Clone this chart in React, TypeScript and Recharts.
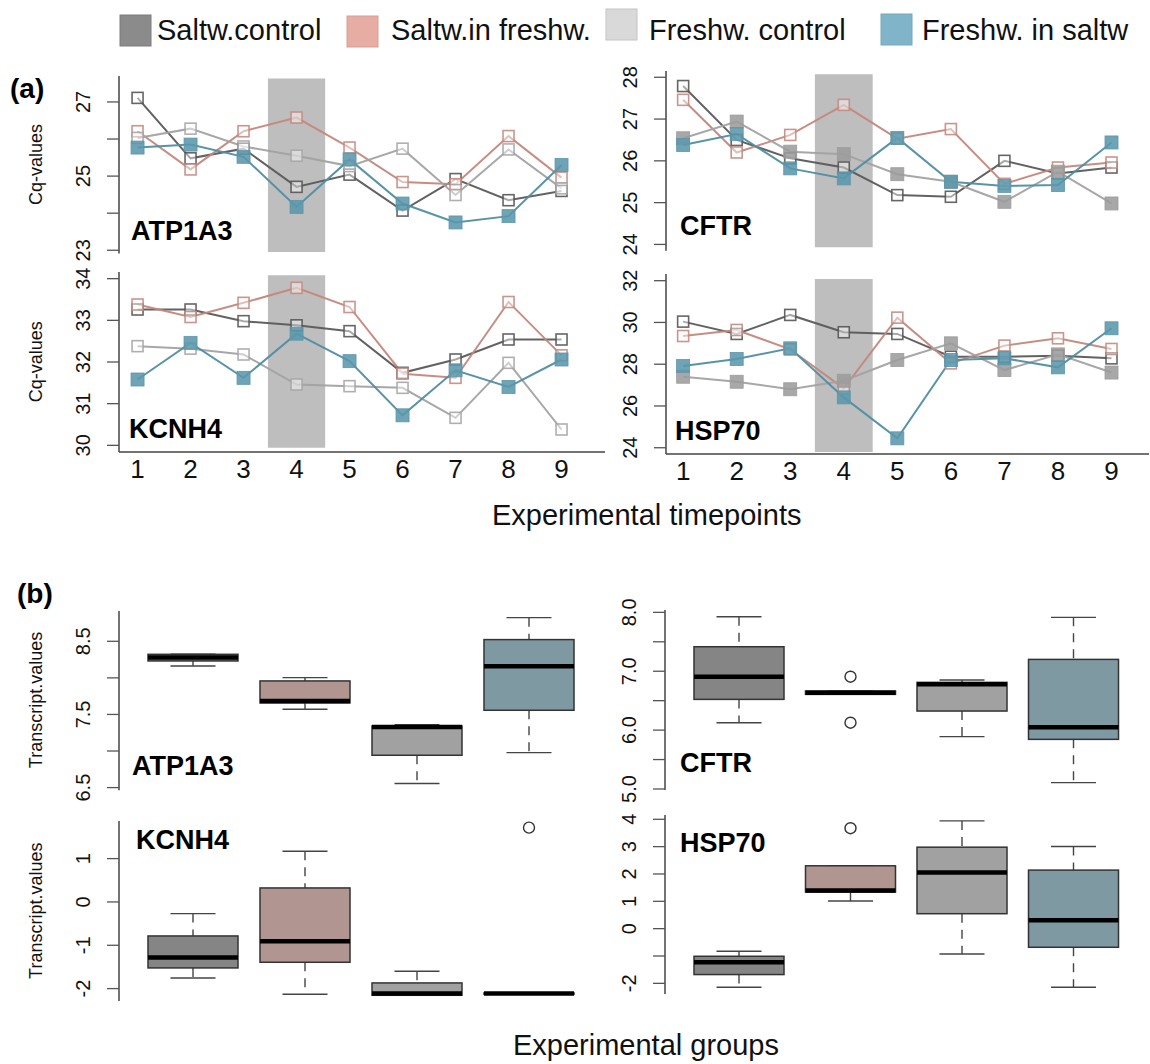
import React from 'react';
import { ComposedChart, Line, Bar, XAxis, YAxis, ReferenceArea } from 'recharts';

const FONT = '"Liberation Sans", Arial, Helvetica, sans-serif';

// ---------- categories ----------
const timepoints = [1, 2, 3, 4, 5, 6, 7, 8, 9];
const groupKeys = ['sc', 'sf', 'fc', 'fs'];
const groupNames = ['Saltw.control', 'Saltw.in freshw.', 'Freshw. control', 'Freshw. in saltw'];

// ---------- (a) Cq-values per timepoint ----------
const atpSC = [27.11, 25.48, 25.74, 24.71, 25.04, 24.07, 24.92, 24.35, 24.6];
const atpSF = [26.21, 25.18, 26.21, 26.58, 25.77, 24.84, 24.78, 26.08, 24.96];
const atpFC = [26.03, 26.28, 25.8, 25.55, 25.27, 25.74, 24.49, 25.72, 24.67];
const atpFS = [25.77, 25.85, 25.52, 24.17, 25.45, 24.26, 23.75, 23.92, 25.3];

const cftrSC = [27.79, 26.5, 26.06, 25.84, 25.18, 25.14, 26.0, 25.7, 25.84];
const cftrSF = [27.46, 26.2, 26.62, 27.34, 26.53, 26.76, 25.45, 25.84, 25.96];
const cftrFC = [26.54, 26.94, 26.22, 26.16, 25.68, 25.5, 25.02, 25.74, 24.98];
const cftrFS = [26.38, 26.64, 25.82, 25.58, 26.55, 25.5, 25.4, 25.42, 26.44];

const kcnSC = [33.26, 33.26, 32.98, 32.88, 32.74, 31.74, 32.06, 32.54, 32.54];
const kcnSF = [33.38, 33.08, 33.42, 33.78, 33.32, 31.72, 31.62, 33.44, 32.16];
const kcnFC = [32.38, 32.32, 32.18, 31.46, 31.42, 31.38, 30.66, 31.98, 30.38];
const kcnFS = [31.58, 32.46, 31.62, 32.68, 32.02, 30.72, 31.8, 31.4, 32.06];

const hspSC = [30.04, 29.45, 30.36, 29.53, 29.45, 28.36, 28.36, 28.41, 28.28];
const hspSF = [29.35, 29.64, 28.71, 26.84, 30.23, 28.04, 28.89, 29.24, 28.73];
const hspFC = [27.4, 27.16, 26.8, 27.21, 28.2, 29.0, 27.72, 28.47, 27.6];
const hspFS = [27.91, 28.25, 28.76, 26.41, 24.45, 28.2, 28.28, 27.85, 29.72];

// shaded transfer period (timepoint range)
const shadeFrom = 3.46;
const shadeTo = 4.54;

// ---------- (b) Transcript values box statistics per group ----------
const atpLow = [8.163, 7.571, 6.555, 6.978];
const atpQ1 = [8.231, 7.657, 6.942, 7.557];
const atpMed = [8.28, 7.684, 7.329, 8.158];
const atpQ3 = [8.322, 7.958, 7.343, 8.523];
const atpHigh = [8.322, 8.003, 7.361, 8.823];
const atpOut: number[][] = [[], [], [], []];

const cftrLow = [6.126, 6.607, 5.889, 5.108];
const cftrQ1 = [6.522, 6.607, 6.324, 5.843];
const cftrMed = [6.907, 6.636, 6.777, 6.047];
const cftrQ3 = [7.416, 6.664, 6.811, 7.201];
const cftrHigh = [7.926, 6.664, 6.85, 7.915];
const cftrOut: number[][] = [[], [6.907, 6.126], [], []];

const kcnLow = [-1.754, -2.131, -2.154, -2.13];
const kcnQ1 = [-1.523, -1.392, -2.154, -2.13];
const kcnMed = [-1.285, -0.908, -2.115, -2.115];
const kcnQ3 = [-0.785, 0.323, -1.869, -2.1];
const kcnHigh = [-0.269, 1.169, -1.6, -2.1];
const kcnOut: number[][] = [[], [], [], [1.715]];

const hspLow = [-2.141, 1.01, -0.925, -2.141];
const hspQ1 = [-1.679, 1.338, 0.547, -0.681];
const hspMed = [-1.229, 1.399, 2.056, 0.304];
const hspQ3 = [-1.01, 2.299, 2.98, 2.141];
const hspHigh = [-0.827, 2.299, 3.942, 3.005];
const hspOut: number[][] = [[], [3.674], [], []];

// ---------- tick labels ----------
const atpTicks = [23, 24, 25, 26, 27];
const atpLabels = [23, 25, 27];
const cftrTicks = [24, 25, 26, 27, 28];
const kcnTicks = [30, 31, 32, 33, 34];
const hspTicks = [24, 26, 28, 30, 32];
const atpBTicks = [6.5, 7, 7.5, 8, 8.5];
const atpBLabels = [6.5, 7.5, 8.5];
const cftrBTicks = [5, 5.5, 6, 6.5, 7, 7.5, 8];
const cftrBLabels = [5, 6, 7, 8];
const kcnBTicks = [-2, -1, 0, 1];
const hspBTicks = [-2, -1, 0, 1, 2, 3, 4];
const hspBLabels = [-2, 0, 1, 2, 3, 4];

// ---------- styles ----------
const legendColors = ['#8b8b8b', '#e7aca3', '#d9d9d9', '#80b4c8'];
const legendStroke = ['#7d7d7d', '#d9a098', '#c4c4c4', '#74a8bc'];
const lineColors = ['#5a5a5a', '#c4877c', '#a2a2a2', '#4f8ea3'];
const markerColors = ['#555555', '#c58a80', '#a6a6a6', '#5a97ab'];
const boxColors = ['#858585', '#b19590', '#a1a1a1', '#7f99a2'];
const frame = { stroke: '#444', strokeWidth: 1.5 };
const tickLineStyle = { stroke: '#555', strokeWidth: 1.3 };

const makeYTick = (labels: number[], digits: number) => (props: any) => {
  const { x, y, payload } = props;
  const v = payload.value;
  if (!labels.some((l) => Math.abs(l - v) < 1e-9)) return <g />;
  return (
    <text x={x} y={y} transform={`rotate(-90 ${x} ${y})`} textAnchor="middle" fontSize={20} fontFamily={FONT} fill="#111">
      {v.toFixed(digits)}
    </text>
  );
};

const XTick = (props: any) => {
  const { x, y, payload } = props;
  return (
    <text x={x} y={y + 26} textAnchor="middle" fontSize={26} fontFamily={FONT} fill="#111">
      {payload.value}
    </text>
  );
};

const openSquare = (stroke: string) => (props: any) => {
  const { cx, cy, index } = props;
  if (cx == null || cy == null) return <g key={`o${index}`} />;
  return (
    <rect key={`o${index}`} x={cx - 5.5} y={cy - 5.5} width={11} height={11} fill="#ffffff" fillOpacity={0.45}
      stroke={stroke} strokeWidth={1.6} strokeOpacity={0.9} />
  );
};
const filledSquare = (fill: string) => (props: any) => {
  const { cx, cy, index } = props;
  if (cx == null || cy == null) return <g key={`f${index}`} />;
  return (
    <rect key={`f${index}`} x={cx - 6.5} y={cy - 6.5} width={13} height={13} fill={fill} fillOpacity={0.88}
      stroke={fill} strokeWidth={0.8} />
  );
};

type LineSpec = {
  gene: string; series: number[][];
  left: number; right: number; top: number; bottom: number;
  xDomain: [number, number]; yDomain: [number, number];
  yTicks: number[]; yLabels: number[];
  shadeY: [number, number];
  showX: boolean; fcFilled: boolean;
};

const linePanels: LineSpec[] = [
  { gene: 'ATP1A3', series: [atpSC, atpSF, atpFC, atpFS], left: 119, right: 605, top: 75.7, bottom: 253.3,
    xDomain: [0.65, 9.82], yDomain: [22.91, 27.7], yTicks: atpTicks, yLabels: atpLabels, shadeY: [22.95, 27.63], showX: false, fcFilled: false },
  { gene: 'CFTR', series: [cftrSC, cftrSF, cftrFC, cftrFS], left: 666, right: 1149, top: 71, bottom: 250.7,
    xDomain: [0.68, 9.7], yDomain: [23.85, 28.15], yTicks: cftrTicks, yLabels: cftrTicks, shadeY: [23.93, 28.07], showX: false, fcFilled: true },
  { gene: 'KCNH4', series: [kcnSC, kcnSF, kcnFC, kcnFS], left: 119, right: 605, top: 271.7, bottom: 451.7,
    xDomain: [0.65, 9.82], yDomain: [29.84, 34.16], yTicks: kcnTicks, yLabels: kcnTicks, shadeY: [29.94, 34.08], showX: true, fcFilled: false },
  { gene: 'HSP70', series: [hspSC, hspSF, hspFC, hspFS], left: 666, right: 1149, top: 274, bottom: 454,
    xDomain: [0.68, 9.7], yDomain: [23.7, 32.32], yTicks: hspTicks, yLabels: hspTicks, shadeY: [23.8, 32.08], showX: true, fcFilled: true },
];

const MT = 22;
const MB = 22;
const YW = 70;
const MR = 2;

function LinePanel({ p }: { p: LineSpec }) {
  const plotW = p.right - p.left;
  const plotH = p.bottom - p.top;
  const XH = p.showX ? 40 : 0;
  const mb = p.showX ? 0 : MB;
  const data = timepoints.map((t, i) => {
    const row: any = { t };
    groupKeys.forEach((k, g) => { row[k] = p.series[g][i]; });
    return row;
  });
  const yTick = makeYTick(p.yLabels, 0);
  return (
    <div style={{ position: 'absolute', left: p.left - YW, top: p.top - MT }}>
      <ComposedChart width={YW + plotW + MR} height={MT + plotH + XH + mb} data={data}
        margin={{ top: MT, right: MR, bottom: mb, left: 0 }}>
        <XAxis xAxisId="b" dataKey="t" type="number" domain={p.xDomain} ticks={timepoints} allowDataOverflow
          axisLine={frame} tickLine={false} tickSize={0} tickMargin={0} height={XH} interval={0}
          tick={p.showX ? XTick : false} />
        <XAxis xAxisId="t" orientation="top" dataKey="t" type="number" domain={p.xDomain} allowDataOverflow
          axisLine={frame} tickLine={false} tick={false} height={0} />
        <YAxis yAxisId="l" type="number" domain={p.yDomain} ticks={p.yTicks} allowDataOverflow interval={0}
          width={YW} axisLine={frame} tickLine={tickLineStyle} tickSize={12} tickMargin={17} tick={yTick} />
        <YAxis yAxisId="r" orientation="right" type="number" domain={p.yDomain} allowDataOverflow
          width={0} axisLine={frame} tickLine={false} tick={false} />
        <ReferenceArea xAxisId="b" yAxisId="l" x1={shadeFrom} x2={shadeTo} y1={p.shadeY[0]} y2={p.shadeY[1]}
          fill="#bebebe" fillOpacity={1} stroke="none" ifOverflow="visible" />
        {groupKeys.map((k, g) => {
          const filled = g === 3 || (g === 2 && p.fcFilled);
          return (
            <Line key={k} xAxisId="b" yAxisId="l" dataKey={k} name={groupNames[g]} type="linear"
              stroke={lineColors[g]} strokeWidth={2} strokeOpacity={0.95}
              dot={filled ? filledSquare(g === 2 ? '#9c9c9c' : markerColors[g]) : openSquare(markerColors[g])}
              activeDot={false} isAnimationActive={false} />
          );
        })}
      </ComposedChart>
    </div>
  );
}

type BoxSpec = {
  gene: string;
  stats: { low: number[]; q1: number[]; med: number[]; q3: number[]; high: number[]; out: number[][] };
  left: number; right: number; top: number; bottom: number;
  yDomain: [number, number]; yTicks: number[]; yLabels: number[]; digits: number;
};

const boxPanels: BoxSpec[] = [
  { gene: 'ATP1A3', stats: { low: atpLow, q1: atpQ1, med: atpMed, q3: atpQ3, high: atpHigh, out: atpOut },
    left: 119, right: 605, top: 610.7, bottom: 790, yDomain: [6.463, 8.914], yTicks: atpBTicks, yLabels: atpBLabels, digits: 1 },
  { gene: 'CFTR', stats: { low: cftrLow, q1: cftrQ1, med: cftrMed, q3: cftrQ3, high: cftrHigh, out: cftrOut },
    left: 665, right: 1149, top: 610, bottom: 790, yDomain: [4.983, 8.04], yTicks: cftrBTicks, yLabels: cftrBLabels, digits: 1 },
  { gene: 'KCNH4', stats: { low: kcnLow, q1: kcnQ1, med: kcnMed, q3: kcnQ3, high: kcnHigh, out: kcnOut },
    left: 119, right: 605, top: 820.7, bottom: 1000.7, yDomain: [-2.286, 1.868], yTicks: kcnBTicks, yLabels: kcnBTicks, digits: 0 },
  { gene: 'HSP70', stats: { low: hspLow, q1: hspQ1, med: hspMed, q3: hspQ3, high: hspHigh, out: hspOut },
    left: 665, right: 1149, top: 815, bottom: 994, yDomain: [-2.39, 4.157], yTicks: hspBTicks, yLabels: hspBLabels, digits: 0 },
];

const BoxShape = (props: any) => {
  const { x, y, width, height, payload, index } = props;
  if (x == null || payload == null) return <g />;
  const [lo, hi] = payload.range;
  const py = (v: number) => y + ((hi - v) / (hi - lo)) * height;
  const cx = x + width / 2;
  const cap = width / 4;
  const yq1 = py(payload.q1), yq3 = py(payload.q3);
  return (
    <g key={`box${index}`}>
      <line x1={cx} x2={cx} y1={py(payload.high)} y2={yq3} stroke="#444" strokeWidth={1.4} strokeDasharray="9 7" />
      <line x1={cx} x2={cx} y1={yq1} y2={py(payload.low)} stroke="#444" strokeWidth={1.4} strokeDasharray="9 7" />
      <line x1={cx - cap} x2={cx + cap} y1={py(payload.high)} y2={py(payload.high)} stroke="#444" strokeWidth={1.4} />
      <line x1={cx - cap} x2={cx + cap} y1={py(payload.low)} y2={py(payload.low)} stroke="#444" strokeWidth={1.4} />
      <rect x={x} y={yq3} width={width} height={Math.max(yq1 - yq3, 0.5)} fill={boxColors[index]} stroke="#333" strokeWidth={1.5} />
      <line x1={x} x2={x + width} y1={py(payload.med)} y2={py(payload.med)} stroke="#000" strokeWidth={4.5} />
      {payload.out.map((o: number, j: number) => (
        <circle key={j} cx={cx} cy={py(o)} r={5.5} fill="none" stroke="#333" strokeWidth={1.4} />
      ))}
    </g>
  );
};

function BoxPanel({ p }: { p: BoxSpec }) {
  const plotW = p.right - p.left;
  const plotH = p.bottom - p.top;
  const s = p.stats;
  const data = groupKeys.map((g, i) => {
    const all = [s.low[i], s.high[i], ...s.out[i]];
    return {
      g, name: groupNames[i],
      range: [Math.min(...all), Math.max(...all)],
      low: s.low[i], q1: s.q1[i], med: s.med[i], q3: s.q3[i], high: s.high[i], out: s.out[i],
    };
  });
  const yTick = makeYTick(p.yLabels, p.digits);
  return (
    <div style={{ position: 'absolute', left: p.left - YW, top: p.top - MT }}>
      <ComposedChart width={YW + plotW + MR} height={MT + plotH + MB} data={data}
        margin={{ top: MT, right: MR, bottom: MB, left: 0 }}>
        <XAxis xAxisId="b" dataKey="g" type="category" padding={{ left: 18, right: 20 }}
          axisLine={frame} tickLine={false} tick={false} height={0} />
        <XAxis xAxisId="t" orientation="top" dataKey="g" type="category" padding={{ left: 18, right: 20 }}
          axisLine={frame} tickLine={false} tick={false} height={0} />
        <YAxis yAxisId="l" type="number" domain={p.yDomain} ticks={p.yTicks} allowDataOverflow interval={0}
          width={YW} axisLine={frame} tickLine={tickLineStyle} tickSize={12} tickMargin={17} tick={yTick} />
        <YAxis yAxisId="r" orientation="right" type="number" domain={p.yDomain} allowDataOverflow
          width={0} axisLine={frame} tickLine={false} tick={false} />
        <Bar xAxisId="b" yAxisId="l" dataKey="range" barSize={90} shape={BoxShape} isAnimationActive={false} />
      </ComposedChart>
    </div>
  );
}

// ---------- text placement ----------
const legendPos = [
  { sx: 120, sy: 15, tx: 157 },
  { sx: 347, sy: 16, tx: 391 },
  { sx: 606, sy: 9, tx: 649 },
  { sx: 881, sy: 14, tx: 922 },
];
const geneLabelPos = [
  { text: 'ATP1A3', x: 131, y: 240 },
  { text: 'CFTR', x: 680, y: 235 },
  { text: 'KCNH4', x: 129, y: 438 },
  { text: 'HSP70', x: 675, y: 440 },
  { text: 'ATP1A3', x: 132, y: 775 },
  { text: 'CFTR', x: 680, y: 772 },
  { text: 'KCNH4', x: 136, y: 849 },
  { text: 'HSP70', x: 680, y: 852 },
];
const yTitlePos = [
  { text: 'Cq-values', y: 164.5 },
  { text: 'Cq-values', y: 361.7 },
  { text: 'Transcript.values', y: 700 },
  { text: 'Transcript.values', y: 910.7 },
];

export default function App() {
  return (
    <div style={{ position: 'absolute', left: 0, top: 0, width: 1150, height: 1064, overflow: 'hidden', background: '#fff', fontFamily: FONT }}>
      {linePanels.map((p) => <LinePanel key={'l' + p.gene} p={p} />)}
      {boxPanels.map((p) => <BoxPanel key={'b' + p.gene} p={p} />)}
      <svg width={1150} height={1064} style={{ position: 'absolute', left: 0, top: 0, pointerEvents: 'none' }} fontFamily={FONT}>
        {legendPos.map((l, i) => (
          <g key={i}>
            <rect x={l.sx} y={l.sy} width={31} height={31} fill={legendColors[i]} stroke={legendStroke[i]} strokeWidth={1} />
            <text x={l.tx} y={40} fontSize={29} fill="#111">{groupNames[i]}</text>
          </g>
        ))}
        <text x={10} y={98} fontSize={28} fontWeight="bold" fill="#000">(a)</text>
        <text x={17} y={603} fontSize={28} fontWeight="bold" fill="#000">(b)</text>
        {geneLabelPos.map((g, i) => (
          <text key={i} x={g.x} y={g.y} fontSize={27} fontWeight="bold" fill="#000">{g.text}</text>
        ))}
        {yTitlePos.map((t, i) => (
          <text key={i} x={42} y={t.y} transform={`rotate(-90 42 ${t.y})`} textAnchor="middle" fontSize={18} fill="#111">{t.text}</text>
        ))}
        <text x={492} y={525} fontSize={29} fill="#111">Experimental timepoints</text>
        <text x={646} y={1055} fontSize={29} fill="#111" textAnchor="middle">Experimental groups</text>
      </svg>
    </div>
  );
}
